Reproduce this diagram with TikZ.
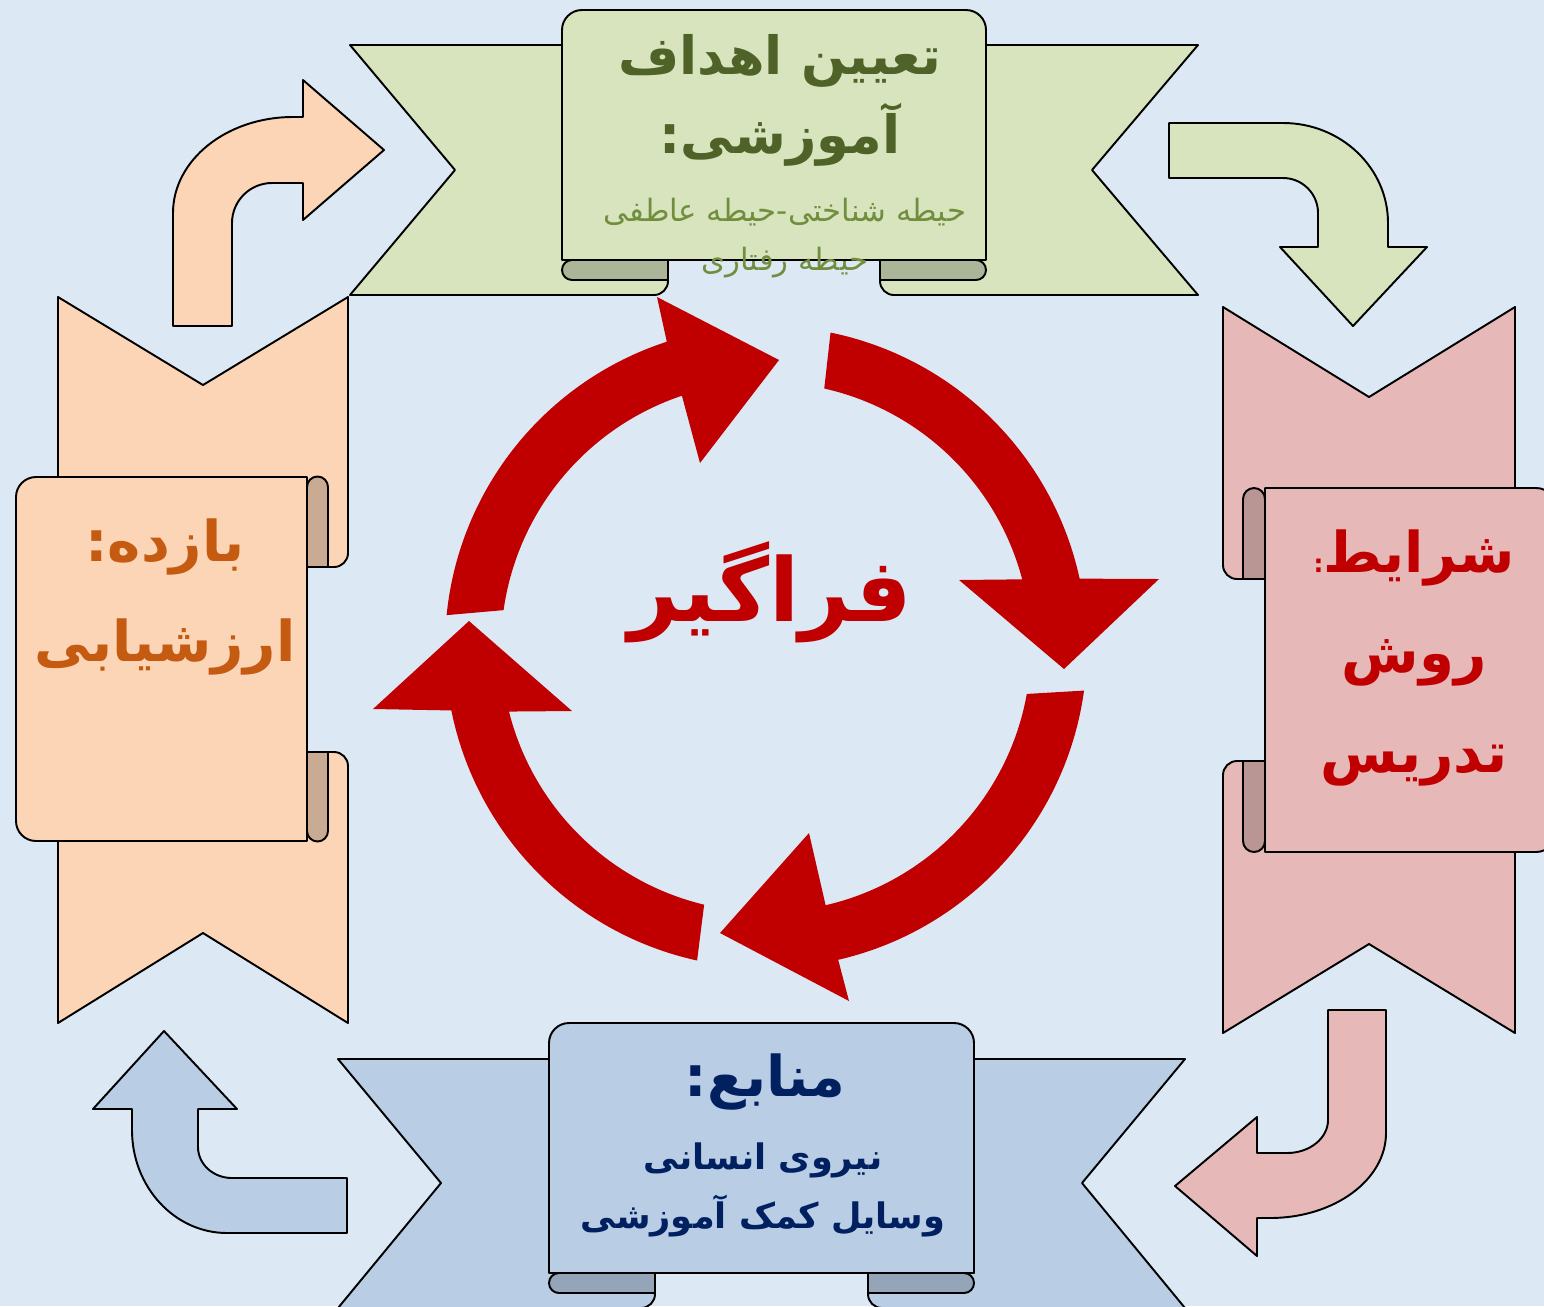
\documentclass[tikz,border=0pt]{standalone}
\usepackage{fontspec}
\newfontfamily\arabicfont[Script=Arabic]{DejaVu Sans}
\TeXXeTstate=1
\newcommand{\rl}[1]{\beginR #1\endR}

\definecolor{bgblue}{HTML}{DDE8F5}
\definecolor{goalgreen}{HTML}{D7E4BD}
\definecolor{goalroll}{HTML}{ABB598}
\definecolor{goaltext}{HTML}{4F6228}
\definecolor{goalsub}{HTML}{718E3E}
\definecolor{evalpeach}{HTML}{FBD5B5}
\definecolor{evalroll}{HTML}{C9AA92}
\definecolor{evaltext}{HTML}{C55A11}
\definecolor{methodpink}{HTML}{E6B9B8}
\definecolor{methodroll}{HTML}{B99594}
\definecolor{methodtext}{HTML}{C00000}
\definecolor{resblue}{HTML}{B9CDE5}
\definecolor{resroll}{HTML}{95A5B9}
\definecolor{restext}{HTML}{002060}
\definecolor{cyclered}{HTML}{C00000}

\tikzset{
  outline/.style={draw=black,line width=1.1pt,line join=round},
  label fa/.style={align=center,inner sep=0pt,font=\arabicfont\bfseries}
}

\begin{document}
\begin{tikzpicture}[x=0.02cm,y=-0.02cm]
  \useasboundingbox (0,0) rectangle (1544,1306);
  \clip (0,0) rectangle (1544,1306);
  \fill[bgblue] (0,0) rectangle (1544,1306);

  % top ribbon
  \begin{scope}[every path/.style={outline,fill=goalgreen}]
    \path (350,45) -- (668,45) -- (668,281) arc[start angle=0,end angle=90,radius=14] -- (350,295) -- (455,170) -- cycle;
    \path (1198,45) -- (880,45) -- (880,281) arc[start angle=180,end angle=90,radius=14] -- (1198,295) -- (1092,170) -- cycle;
    \path (562,260) -- (562,30) arc[start angle=180,end angle=270,radius=20] -- (966,10) arc[start angle=270,end angle=360,radius=20] -- (986,260) -- cycle;
  \end{scope}
  \begin{scope}[every path/.style={outline,fill=goalroll}]
    \path (668,260) -- (572,260) arc[start angle=270,end angle=90,radius=10] -- (668,280) -- cycle;
    \path (880,260) -- (976,260) arc[start angle=270,end angle=450,radius=10] -- (880,280) -- cycle;
  \end{scope}

  % bottom ribbon
  \begin{scope}[every path/.style={outline,fill=resblue}]
    \path (338,1059) -- (655,1059) -- (655,1294) arc[start angle=0,end angle=90,radius=14] -- (338,1308) -- (441,1183) -- cycle;
    \path (1185,1059) -- (868,1059) -- (868,1294) arc[start angle=180,end angle=90,radius=14] -- (1185,1308) -- (1082,1183) -- cycle;
    \path (549,1273) -- (549,1043) arc[start angle=180,end angle=270,radius=20] -- (954,1023) arc[start angle=270,end angle=360,radius=20] -- (974,1273) -- cycle;
  \end{scope}
  \begin{scope}[every path/.style={outline,fill=resroll}]
    \path (655,1273) -- (559,1273) arc[start angle=270,end angle=90,radius=10] -- (655,1293) -- cycle;
    \path (868,1273) -- (964,1273) arc[start angle=270,end angle=450,radius=10] -- (868,1293) -- cycle;
  \end{scope}

  % left ribbon
  \begin{scope}[every path/.style={outline,fill=evalpeach}]
    \path (58,297) -- (203,385) -- (348,297) -- (348,553) arc[start angle=0,end angle=90,radius=14] -- (58,567) -- cycle;
    \path (58,1023) -- (203,933) -- (348,1023) -- (348,766) arc[start angle=0,end angle=-90,radius=14] -- (58,752) -- cycle;
    \path (307,477) -- (36,477) arc[start angle=270,end angle=180,radius=20] -- (16,821) arc[start angle=180,end angle=90,radius=20] -- (307,841) -- cycle;
  \end{scope}
  \begin{scope}[every path/.style={outline,fill=evalroll}]
    \path (307,567) -- (307,487) arc[start angle=180,end angle=360,radius=10.5] -- (328,567) -- cycle;
    \path (307,752) -- (307,831) arc[start angle=180,end angle=0,radius=10.5] -- (328,752) -- cycle;
  \end{scope}

  % right ribbon
  \begin{scope}[every path/.style={outline,fill=methodpink}]
    \path (1515,307) -- (1369,397) -- (1223,307) -- (1223,565) arc[start angle=180,end angle=90,radius=14] -- (1515,579) -- cycle;
    \path (1515,1033) -- (1369,944) -- (1223,1033) -- (1223,775) arc[start angle=180,end angle=270,radius=14] -- (1515,761) -- cycle;
    \path (1265,488) -- (1536,488) arc[start angle=270,end angle=360,radius=20] -- (1556,832) arc[start angle=0,end angle=90,radius=20] -- (1265,852) -- cycle;
  \end{scope}
  \begin{scope}[every path/.style={outline,fill=methodroll}]
    \path (1265,579) -- (1265,499) arc[start angle=360,end angle=180,radius=11] -- (1243,579) -- cycle;
    \path (1265,761) -- (1265,841) arc[start angle=0,end angle=180,radius=11] -- (1243,761) -- cycle;
  \end{scope}

  % corner arrows
  \draw[outline,fill=evalpeach] (173,326) -- (173,213) arc[start angle=180,end angle=270,x radius=120,y radius=96] -- (303,117) -- (303,80) -- (384,150) -- (303,220) -- (303,183) -- (272,183) arc[start angle=270,end angle=180,radius=40] -- (232,326) -- cycle;
  \draw[outline,fill=goalgreen] (1169,123) -- (1283,123) arc[start angle=270,end angle=360,x radius=105,y radius=100] -- (1388,247) -- (1427,247) -- (1353,326) -- (1280,247) -- (1318,247) -- (1318,213) arc[start angle=0,end angle=-90,radius=35] -- (1169,178) -- cycle;
  \draw[outline,fill=methodpink] (1328,1010) -- (1386,1010) -- (1386,1133) arc[start angle=0,end angle=90,x radius=116,y radius=85] -- (1257,1218) -- (1257,1256) -- (1175,1186) -- (1257,1117) -- (1257,1153) -- (1287,1153) arc[start angle=90,end angle=0,x radius=41,y radius=33] -- cycle;
  \draw[outline,fill=resblue] (347,1178) -- (347,1233) -- (227,1233) arc[start angle=90,end angle=180,x radius=95,y radius=103] -- (132,1109) -- (93,1109) -- (164,1031) -- (237,1109) -- (198,1109) -- (198,1147) arc[start angle=180,end angle=90,x radius=34,y radius=31] -- cycle;

  % cycle
  \begin{scope}[shift={(766,647)}]
    \foreach \so/\si/\eo/\ei/\ha/\tip/\hb in {
        185.7/188/252/251.5/{(-109,-350)}/{(13,-287)}/{(-66,-184)},
        281.6/282.7/347.7/345.2/{(393,-68)}/{(298,22)}/{(193,-67)},
        7.8/10.2/77/77/{(83,354)}/{(-46,286)}/{(43,186)},
        102.4/103.5/168.6/165.9/{(-393,62)}/{(-297,-26)}/{(-194,64)}}
      \fill[cyclered] (\so:321) arc[start angle=\so,end angle=\eo,radius=321] -- \ha -- \tip -- \hb -- (\ei:265) arc[start angle=\ei,end angle=\si,radius=265] -- cycle;
  \end{scope}

  % texts
  \node[label fa,text=goaltext,font=\arabicfont\bfseries\fontsize{30}{45}\selectfont] (goal) at (780,100) {\rl{تعیین اهداف}\\\rl{آموزشی:}};
  \node[label fa,text=goalsub,font=\arabicfont\fontsize{17.5}{28}\selectfont] (goalsub) at (785,238) {\rl{حیطه شناختی-حیطه عاطفی}\\\rl{حیطه رفتاری}};
  \node[label fa,text=evaltext,font=\arabicfont\bfseries\fontsize{32}{57}\selectfont] (eval) at (165,597) {\rl{بازده:}\\\rl{ارزشیابی}};
  \node[label fa,text=methodtext,font=\arabicfont\bfseries\fontsize{32}{57}\selectfont] (method) at (1414,658) {\rl{شرایط{\fontsize{14}{14}\selectfont:}}\\\rl{روش}\\\rl{تدریس}};
  \node[label fa,text=restext,font=\arabicfont\bfseries\fontsize{32}{40}\selectfont] (res) at (765,1082) {\rl{منابع:}};
  \node[label fa,text=restext,font=\arabicfont\bfseries\fontsize{20}{34}\selectfont] (ressub) at (763,1190) {\rl{نیروی انسانی}\\\rl{وسایل کمک آموزشی}};
  \node[label fa,text=cyclered,font=\arabicfont\bfseries\fontsize{50}{60}\selectfont] (learner) at (770,592) {\rl{فراگیر}};
\end{tikzpicture}
\end{document}
